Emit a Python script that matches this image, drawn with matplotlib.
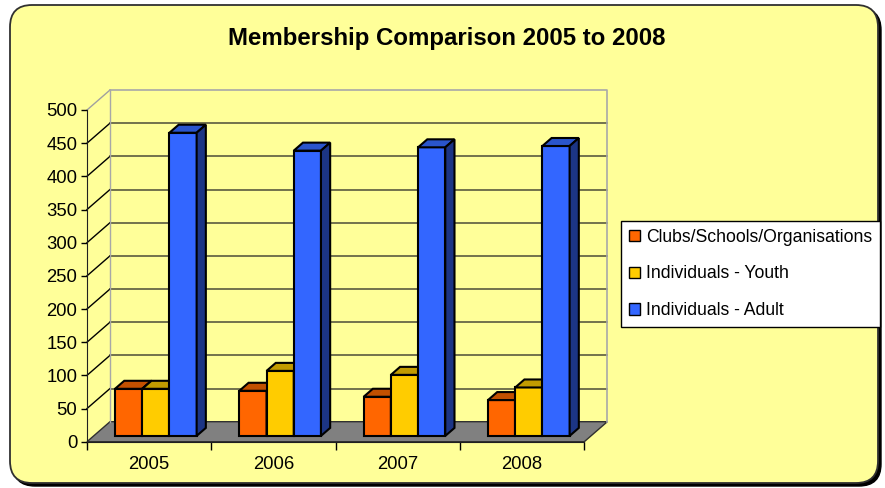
import matplotlib
matplotlib.use("Agg")
import matplotlib.pyplot as plt
from matplotlib.patches import Polygon, FancyBboxPatch, Patch
import numpy as np

plt.rcParams['font.family'] = ['Liberation Sans', 'DejaVu Sans']

years = ['2005', '2006', '2007', '2008']
series_names = ['Clubs/Schools/Organisations', 'Individuals - Youth', 'Individuals - Adult']
clubs = [71, 68, 59, 54]
youth = [71, 98, 92, 73]
adult = [457, 430, 435, 437]

front_colors = ['#FF6600', '#FFCC00', '#3366FF']
top_colors = ['#C25000', '#C29B00', '#2A55CC']
side_colors = ['#9E4100', '#9E7E00', '#1C3585']

bg = '#FFFF99'

fig = plt.figure(figsize=(8.85, 4.88), dpi=100)
fig.patch.set_facecolor('white')

# chart area (pixel coords)
bgax = fig.add_axes([0, 0, 1, 1])
bgax.set_xlim(0, 885)
bgax.set_ylim(488, 0)
bgax.axis('off')
bgax.add_patch(FancyBboxPatch((13, 8), 868, 478, boxstyle='round,pad=0,rounding_size=22',
                              facecolor='black', edgecolor='black', lw=1))
bgax.add_patch(FancyBboxPatch((10, 5), 868, 478, boxstyle='round,pad=0,rounding_size=22',
                              facecolor=bg, edgecolor='#303030', lw=1.3))

bgax.text(447, 38, 'Membership Comparison 2005 to 2008', ha='center', va='center',
          fontsize=17.3, fontweight='bold')

# plot area: front plane
ax = fig.add_axes([87 / 885, (488 - 441.7) / 488, (584.3 - 87) / 885, (441.7 - 110) / 488])
ax.patch.set_visible(False)
ax.set_xlim(-0.5, 3.5)
ax.set_ylim(0, 500)

DX = 23 / 124.3          # depth shift in category units
DY = 20 * 500 / 331.7    # depth shift in value units
x0, x1 = -0.5, 3.5
ymax = 500

# back wall
ax.add_patch(Polygon([(x0 + DX, DY), (x1 + DX, DY), (x1 + DX, ymax + DY), (x0 + DX, ymax + DY)],
                     closed=True, facecolor=bg, edgecolor='none', clip_on=False, zorder=0))
# floor
ax.add_patch(Polygon([(x0, 0), (x1, 0), (x1 + DX, DY), (x0 + DX, DY)], closed=True,
                     facecolor='#808080', edgecolor='#303030', lw=1, clip_on=False, zorder=1))

# grid lines
for v in range(50, ymax + 1, 50):
    if v < ymax:
        ax.plot([x0 + DX, x1 + DX], [v + DY, v + DY], color='#5A5A40', lw=1.2,
                clip_on=False, zorder=1)
    ax.plot([x0, x0 + DX], [v, v + DY], color='black' if v < ymax else '#A0A0A0',
            lw=1, clip_on=False, zorder=1)

# wall edges
ax.plot([x0 + DX, x1 + DX, x1 + DX], [ymax + DY, ymax + DY, DY], color='#A8A8A8', lw=1.2,
        clip_on=False, zorder=1)
ax.plot([x0 + DX, x0 + DX], [DY, ymax + DY], color='#A8A8A8', lw=1, clip_on=False, zorder=1)

# bars
f0 = 0.29
fd = 0.40
w = 27.2 / 124.3
ddx, ddy = fd * DX, fd * DY
base = f0 * DY
xc = np.arange(len(years)) + f0 * DX
data = [clubs, youth, adult]
z = 3
for s, vals in enumerate(data):
    xs = xc + (s - 1.5) * w
    ax.bar(xs, vals, width=w, bottom=base, align='edge', color=front_colors[s],
           edgecolor='black', lw=1.5, zorder=z + s * 3, clip_on=False)
    for xi, v in zip(xs, vals):
        top = base + v
        ax.add_patch(Polygon([(xi, top), (xi + w, top), (xi + w + ddx, top + ddy), (xi + ddx, top + ddy)],
                             closed=True, facecolor=top_colors[s], edgecolor='black', lw=1.5,
                             clip_on=False, zorder=z + s * 3 + 1))
        ax.add_patch(Polygon([(xi + w, base), (xi + w + ddx, base + ddy), (xi + w + ddx, top + ddy), (xi + w, top)],
                             closed=True, facecolor=side_colors[s], edgecolor='black', lw=1.5,
                             clip_on=False, zorder=z + s * 3 + 1))

# axes
for sp in ['top', 'right']:
    ax.spines[sp].set_visible(False)
ax.spines['left'].set_color('#202020')
ax.spines['bottom'].set_color('#202020')
ax.spines['left'].set_zorder(20)
ax.spines['bottom'].set_zorder(20)
ax.set_yticks(range(0, ymax + 1, 50))
ax.tick_params(axis='y', direction='out', length=4, width=1, pad=3, labelsize=13.3)
ax.set_xticks(np.arange(-0.5, 4, 1))
ax.set_xticklabels([])
ax.tick_params(axis='x', which='major', direction='out', length=6, width=1)
ax.set_xticks(np.arange(len(years)), minor=True)
ax.set_xticklabels(years, minor=True)
ax.tick_params(axis='x', which='minor', length=0, pad=10, labelsize=13.3)

handles = [Patch(facecolor=c, edgecolor='black', lw=1) for c in front_colors]
leg = ax.legend(handles, series_names, loc='upper left',
                bbox_to_anchor=(621 / 885, 1 - 220.7 / 488), bbox_transform=fig.transFigure,
                fontsize=12.7, frameon=True, fancybox=False, framealpha=1,
                handlelength=0.6, handleheight=0.6,
                handletextpad=0.35, labelspacing=1.12, borderpad=0.45, borderaxespad=0)
leg.get_frame().set_edgecolor('black')
leg.get_frame().set_linewidth(1)
leg.get_frame().set_facecolor('white')
leg.set_zorder(30)

fig.savefig('out.png', dpi=100, facecolor='white')
